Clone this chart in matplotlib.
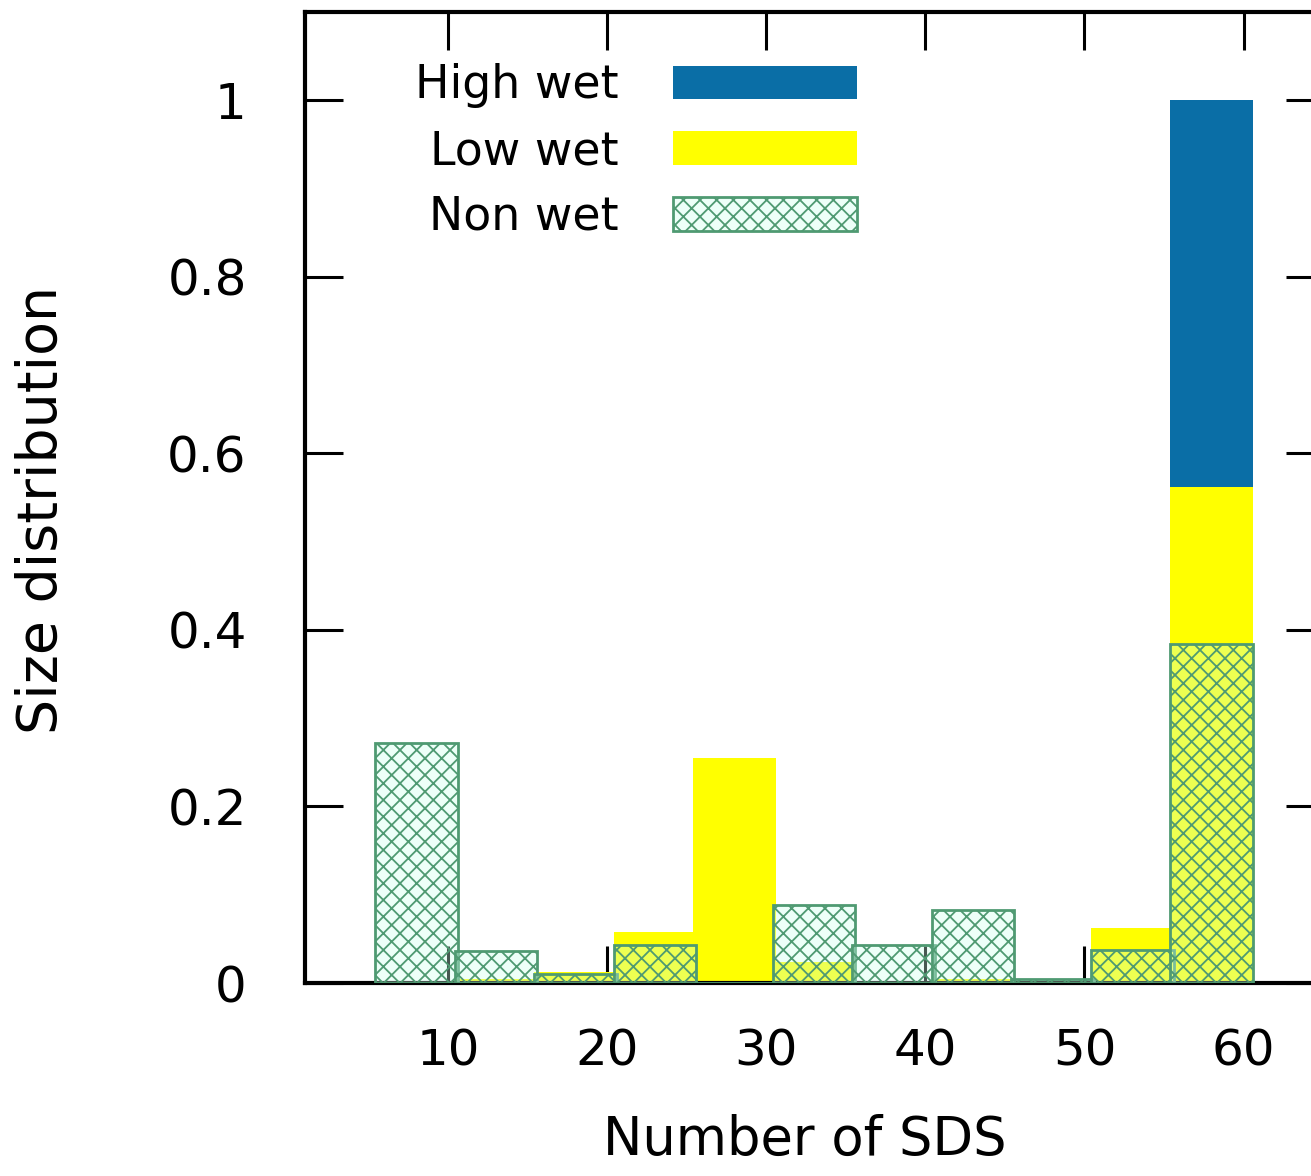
import matplotlib.pyplot as plt
from matplotlib.patches import Patch

# данные гистограммы (центры бинов по числу SDS)
sds_bins = [8, 13, 18, 23, 28, 33, 38, 43, 48, 53, 58]
high_wet = [0, 0, 0, 0, 0, 0, 0, 0, 0, 0, 1.0]
low_wet = [0, 0.005, 0.012, 0.058, 0.255, 0.024, 0, 0.005, 0, 0.062, 0.562]
non_wet = [0.272, 0.036, 0.010, 0.043, 0, 0.088, 0.043, 0.083, 0.004, 0.037, 0.384]

x_ticks = [10, 20, 30, 40, 50, 60]
y_ticks = [0, 0.2, 0.4, 0.6, 0.8, 1]
y_ticklabels = ['0', '0.2', '0.4', '0.6', '0.8', '1']

blue = '#0a6ea6'
yellow = '#ffff00'
green = '#4f9a72'
mint = (0.8, 1.0, 0.92, 0.35)

plt.rcParams['hatch.linewidth'] = 1.3

fig = plt.figure(figsize=(13.11, 11.76), dpi=100)
ax = fig.add_axes([0.2327, 0.1641, 0.7765, 0.8257])

w = 5.2
ax.bar(sds_bins, high_wet, width=w, color=blue, linewidth=0, zorder=1)
ax.bar(sds_bins, low_wet, width=w, color=yellow, linewidth=0, zorder=2)
ax.bar(sds_bins, non_wet, width=w, facecolor=mint, edgecolor=green,
       hatch='xx', linewidth=2, zorder=3)

ax.set_xlim(1, 65)
ax.set_ylim(0, 1.1)
ax.set_xticks(x_ticks)
ax.set_yticks(y_ticks)
ax.set_yticklabels(y_ticklabels)

for s in ax.spines.values():
    s.set_linewidth(3)
ax.tick_params(direction='in', length=27, width=2.2, top=True, right=True,
               labelsize=36)
ax.tick_params(axis='x', pad=32)
ax.tick_params(axis='y', pad=42)

ax.set_xlabel('Number of SDS', fontsize=38)
ax.set_ylabel('Size distribution', fontsize=40)
ax.xaxis.set_label_coords(0.491, -0.135)
ax.yaxis.set_label_coords(-0.232, 0.487)

handles = [Patch(facecolor=blue, linewidth=0),
           Patch(facecolor=yellow, linewidth=0),
           Patch(facecolor=mint, edgecolor=green, hatch='xx', linewidth=2)]
ax.legend(handles, ['High wet', 'Low wet', 'Non wet'], markerfirst=False,
          loc='upper right', bbox_to_anchor=(0.542, 0.947), frameon=False,
          fontsize=33, handlelength=4.0, handleheight=0.75,
          handletextpad=1.2, labelspacing=0.45, borderpad=0, borderaxespad=0)

fig.savefig('out.png', dpi=100)
